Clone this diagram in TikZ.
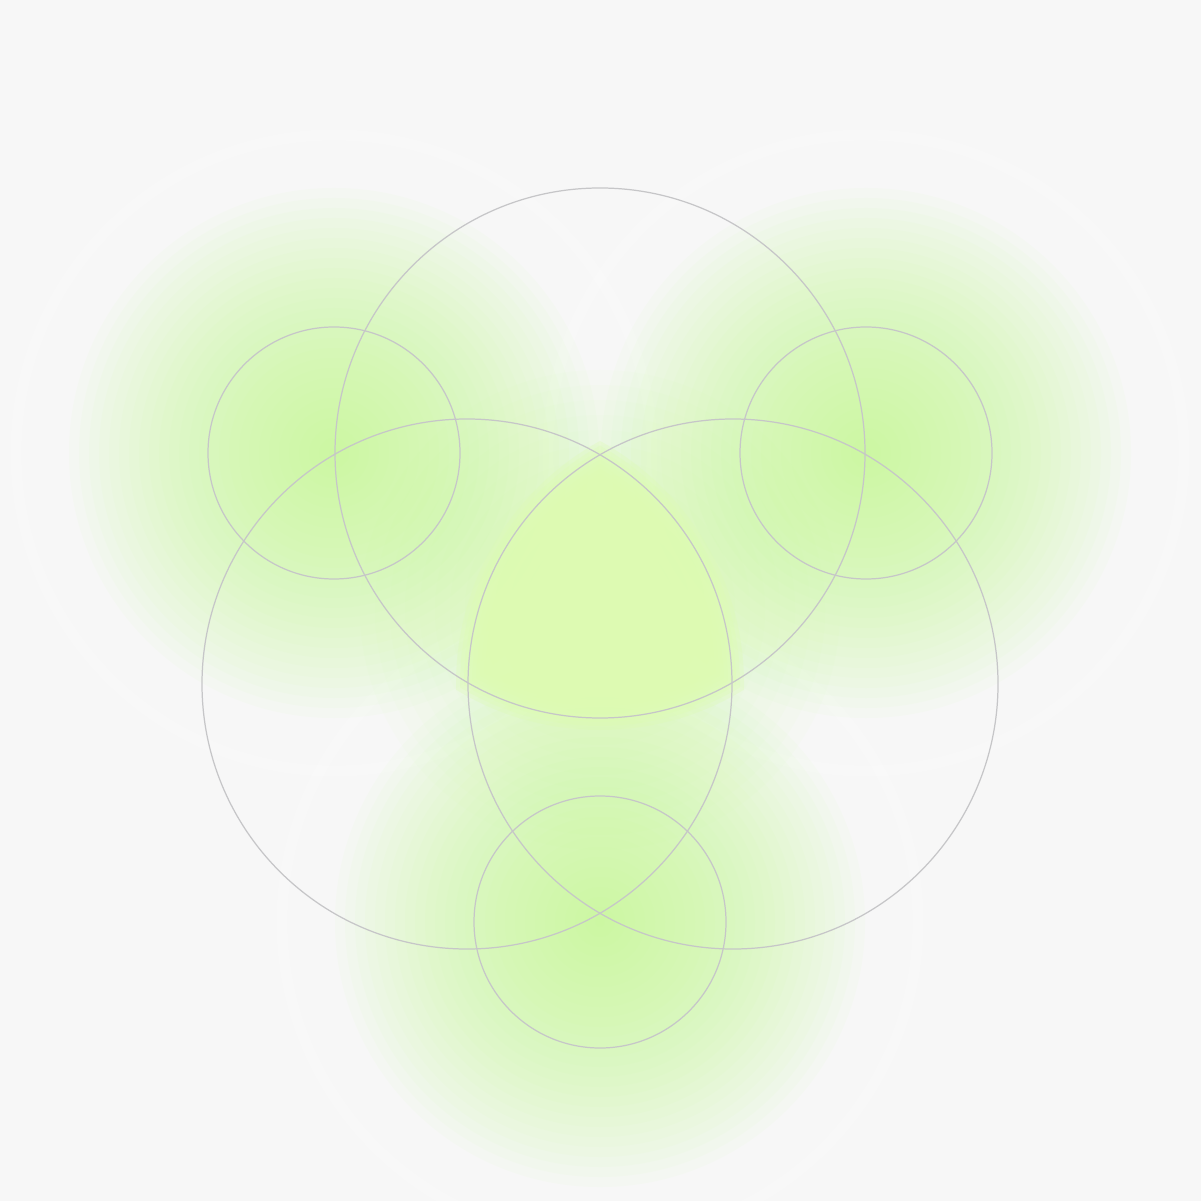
\documentclass[tikz,border=0pt]{standalone}

\definecolor{paper}{HTML}{F7F7F7}
\definecolor{lime}{HTML}{C6FA8E}
\definecolor{limecore}{HTML}{DDFDB2}
\definecolor{ringgray}{HTML}{C6C6C8}

\begin{document}
\begin{tikzpicture}[x=0.01cm,y=-0.01cm,
	ring/.style={draw=ringgray,line width=0.35pt},
	halo/.style={draw=white,line width=3,opacity=0.22},
	glow/.style={fill=lime,opacity=0.047}]
	\useasboundingbox (0,0) rectangle (1201,1201);
	\clip (0,0) rectangle (1201,1201);
	\fill[paper] (0,0) rectangle (1201,1201);

	\coordinate (bigtop) at (600,453);
	\coordinate (bigleft) at (467,684);
	\coordinate (bigright) at (733,684);
	\coordinate (dotleft) at (334,453);
	\coordinate (dotright) at (866,453);
	\coordinate (dotbottom) at (600,922);

	% faint rings round the glows
	\draw[halo] (dotleft) circle (318);
	\draw[halo] (dotright) circle (318);
	\draw[halo] (dotbottom) circle (318);

	% glows, built up from thin layers
	\foreach \r in {265,255,...,5}{
		\fill[glow] (dotleft) circle (\r);
		\fill[glow] (dotright) circle (\r);
		\fill[glow] (dotbottom) circle (\r);
	}
	\foreach \r in {240,225,...,30}
		\fill[glow,opacity=0.03] (600,610) circle (\r);

	% common part of the three big circles, soft edge
	\foreach \d in {-16,-12,...,12}{
		\begin{scope}
			\clip (bigtop) circle (265+\d);
			\clip (bigleft) circle (265+\d);
			\fill[limecore,opacity=0.3] (bigright) circle (265+\d);
		\end{scope}
	}

	% outlines
	\draw[ring] (bigtop) circle (265);
	\draw[ring] (bigleft) circle (265);
	\draw[ring] (bigright) circle (265);
	\draw[ring] (dotleft) circle (126);
	\draw[ring] (dotright) circle (126);
	\draw[ring] (dotbottom) circle (126);
\end{tikzpicture}
\end{document}
